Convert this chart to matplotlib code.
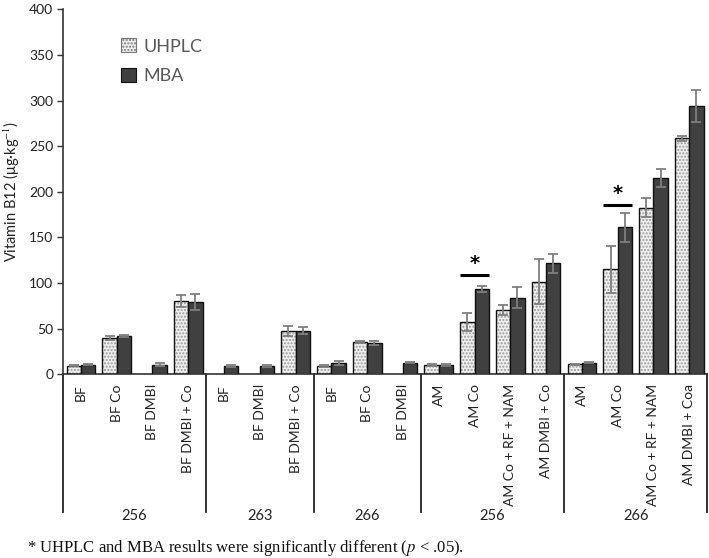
import matplotlib
matplotlib.use("Agg")
import matplotlib.pyplot as plt
import matplotlib.transforms as mtransforms
from matplotlib.patches import Patch
import numpy as np

plt.rcParams['font.family'] = ['Lato', 'DejaVu Sans']
plt.rcParams['mathtext.fontset'] = 'stix'

categories = ["BF", "BF Co", "BF DMBI", "BF DMBI + Co",
              "BF", "BF DMBI", "BF DMBI + Co",
              "BF", "BF Co", "BF DMBI",
              "AM", "AM Co", "AM Co + RF + NAM", "AM DMBI + Co",
              "AM", "AM Co", "AM Co + RF + NAM", "AM DMBI + Coa"]
group_labels = ["256", "263", "266", "256", "266"]
group_sizes = [4, 3, 3, 4, 4]

nan = np.nan
uhplc = [9.5, 40, nan, 80.5,
         nan, nan, 47.5,
         9.2, 35.5, nan,
         10, 57.5, 70.5, 101.5,
         11, 115, 182.5, 258.5]
uhplc_err = [0.8, 2, nan, 6.5,
             nan, nan, 5,
             0.8, 1.5, nan,
             1, 10, 5.5, 24.5,
             0.8, 26, 10.5, 2.5]
mba = [10.5, 42, 10.5, 79.5,
       9, 9, 48,
       12.5, 34.2, 12.5,
       10, 93.5, 84, 121.5,
       12.5, 161, 215, 294]
mba_err = [0.8, 1, 1.5, 9,
           1, 0.8, 3.5,
           2, 2.5, 0.5,
           0.8, 3, 11.5, 10,
           0.6, 16, 10, 18]

sig_index = [11, 15]
sig_level = [108.5, 186]

fig = plt.figure(figsize=(7.09, 5.58), dpi=100)
ax = fig.add_axes([0.0889, 0.3292, 0.9085, 0.6541])

x = np.arange(len(categories))
w = 0.4
dark = '#404040'
light = '#efefef'

# UHPLC bars: dotted fill + black outline
ax.bar(x - w/2, uhplc, width=w, color=light, edgecolor='#9a9a9a', hatch='.....', linewidth=0, zorder=2)
ax.bar(x - w/2, uhplc, width=w, color='none', edgecolor='#111111', linewidth=1.0, zorder=3)
ax.bar(x + w/2, mba, width=w, color=dark, edgecolor='#111111', linewidth=1.0, zorder=3)

ax.errorbar(x - w/2, uhplc, yerr=uhplc_err, fmt='none', ecolor='#7f7f7f', elinewidth=1.3, capsize=3.5, capthick=1.3, zorder=4)
ax.errorbar(x + w/2, mba, yerr=mba_err, fmt='none', ecolor='#7f7f7f', elinewidth=1.3, capsize=3.5, capthick=1.3, zorder=4)

for i, lv in zip(sig_index, sig_level):
    ax.plot([x[i] - w, x[i] + w], [lv, lv], color='black', lw=2.2, zorder=5, solid_capstyle='butt')
    ax.text(x[i], lv + 2, '*', ha='center', va='bottom', fontsize=14, fontweight='bold',
            family='DejaVu Sans', color='black')

ax.set_xlim(-0.5, len(categories) - 0.5)
ax.set_ylim(0, 400)
ax.set_yticks(np.arange(0, 401, 50))
ax.tick_params(axis='y', labelsize=10, length=4, width=1, color='#333333', labelcolor='#222222', pad=3)
ax.set_xticks(x)
ax.set_xticklabels(categories, rotation=90, fontsize=10, color='#222222', va='top')
ax.tick_params(axis='x', length=0, pad=7)
for s in ['top', 'right']:
    ax.spines[s].set_visible(False)
ax.spines['left'].set_color('#333333')
ax.spines['bottom'].set_color('#333333')
ax.spines['left'].set_linewidth(1.2)
ax.spines['bottom'].set_linewidth(1.2)

ax.set_ylabel('Vitamin B12 (μg·kg$^{−1}$)', fontsize=10.5, color='#222222', labelpad=5)

# group separators and labels
trans = mtransforms.blended_transform_factory(ax.transData, ax.transAxes)
bounds = np.concatenate([[0], np.cumsum(group_sizes)]) - 0.5
for b in bounds:
    ax.plot([b, b], [0, -0.377], transform=trans, color='#222222', lw=1.3, clip_on=False)
for i, lab in enumerate(group_labels):
    ax.text((bounds[i] + bounds[i+1]) / 2, -0.388, lab, transform=trans, ha='center', va='center',
            fontsize=10.5, color='#222222')

handles = [Patch(facecolor=light, edgecolor='#777777', hatch='.....', linewidth=0.8),
           Patch(facecolor=dark, edgecolor='#111111', linewidth=0.8)]
leg = ax.legend(handles, ['UHPLC', 'MBA'], loc='upper left', bbox_to_anchor=(0.065, 0.965),
                frameon=False, fontsize=13, handlelength=0.8, handleheight=0.8, labelspacing=0.75,
                handletextpad=0.45)
for t in leg.get_texts():
    t.set_color('#595959')

fig.text(0.038, 0.018, '* UHPLC and MBA results were significantly different ($p$ < .05).',
         family='Liberation Serif', fontsize=12, color='#111111', ha='left', va='center')

fig.savefig('out.png', dpi=100)
